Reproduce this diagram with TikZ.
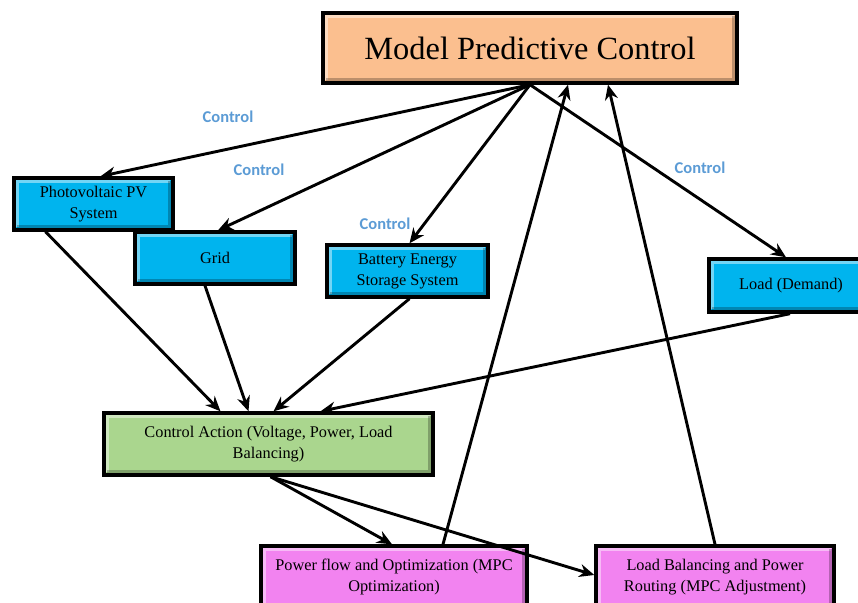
\documentclass[tikz,border=0pt]{standalone}
\usepackage{fontspec}
\setmainfont{Liberation Serif}
\newfontfamily\lblfont{Carlito}
\usetikzlibrary{arrows.meta,calc}
\definecolor{peach}{HTML}{FBBF8F}
\definecolor{skyb}{HTML}{00B4EE}
\definecolor{lgreen}{HTML}{AAD68E}
\definecolor{pinkv}{HTML}{F283F0}
\definecolor{ctlblue}{HTML}{5B9BD5}
\tikzset{
  box/.style={draw=black, line width=3.4pt, fill=#1, inner sep=0pt, align=center,
    font=\fontsize{16.3}{21}\selectfont,
    path picture={
      \draw[white,opacity=0.45,line width=3.5pt]
        ([xshift=3pt,yshift=3pt]path picture bounding box.south west) --
        ([xshift=3pt,yshift=-3pt]path picture bounding box.north west) --
        ([xshift=-3pt,yshift=-3pt]path picture bounding box.north east);
      \draw[black,opacity=0.25,line width=3.5pt]
        ([xshift=-3pt,yshift=-3pt]path picture bounding box.north east) --
        ([xshift=-3pt,yshift=3pt]path picture bounding box.south east) --
        ([xshift=3pt,yshift=3pt]path picture bounding box.south west);
    }},
  conn/.style={line width=2.9pt, -{Stealth[length=15pt,width=13pt]}},
  ctl/.style={text=ctlblue, font=\lblfont\bfseries\fontsize{16.5}{18}\selectfont}
}
\begin{document}
\begin{tikzpicture}[x=1pt,y=-1pt]
\useasboundingbox (0,0) rectangle (858,602);
\clip (0,0) rectangle (858,602);
% nodes
\node[box=peach, minimum width=414pt, minimum height=70pt, font=\fontsize{32.4}{36}\selectfont] (mpc) at (530,48) {Model Predictive Control};
\node[box=skyb, minimum width=159pt, minimum height=52pt] (pv) at (93.5,204) {Photovoltaic PV\\System};
\node[box=skyb, minimum width=160pt, minimum height=52pt] (grid) at (215,258) {Grid};
\node[box=skyb, minimum width=161pt, minimum height=52pt] (bess) at (407.5,271) {Battery Energy\\Storage System};
\node[box=skyb, minimum width=164pt, minimum height=53pt] (load) at (791,285.5) {Load (Demand)};
\node[box=lgreen, minimum width=329pt, minimum height=62pt] (ca) at (268.5,444) {Control Action (Voltage, Power, Load\\Balancing)};
\node[box=pinkv, minimum width=266pt, minimum height=62pt] (pf) at (394,577) {Power flow and Optimization (MPC\\Optimization)};
\node[box=pinkv, minimum width=238pt, minimum height=62pt] (lb) at (715,577) {Load Balancing and Power\\Routing (MPC Adjustment)};
% labels
\node[ctl] (c1) at (228,117) {Control};
\node[ctl] (c2) at (259,170) {Control};
\node[ctl] (c3) at (385,224) {Control};
\node[ctl] (c4) at (700,168) {Control};
% connectors
\draw[conn] (mpc.south) -- ([xshift=7pt]pv.north);
\draw[conn] (mpc.south) -- ([xshift=3pt]grid.north);
\draw[conn] (mpc.south) -- ([xshift=2pt]bess.north);
\draw[conn] (mpc.south) -- ([xshift=-5pt]load.north);
\draw[conn] ([xshift=-48pt]pv.south) -- ([xshift=-48pt]ca.north);
\draw[conn] ([xshift=-10pt]grid.south) -- ([xshift=-20pt]ca.north);
\draw[conn] ([xshift=2pt]bess.south) -- ([xshift=5pt]ca.north);
\draw[conn] ([xshift=-1pt]load.south) -- ([xshift=52pt]ca.north);
\draw[conn] ([xshift=2pt]ca.south) -- ([xshift=-2pt]pf.north);
\draw[conn] ([xshift=2pt]ca.south) -- ([yshift=2pt]lb.west);
\draw[conn] ([xshift=49pt]pf.north) -- ([xshift=38pt]mpc.south);
\draw[conn] (lb.north) -- ([xshift=78pt]mpc.south);
\end{tikzpicture}
\end{document}
